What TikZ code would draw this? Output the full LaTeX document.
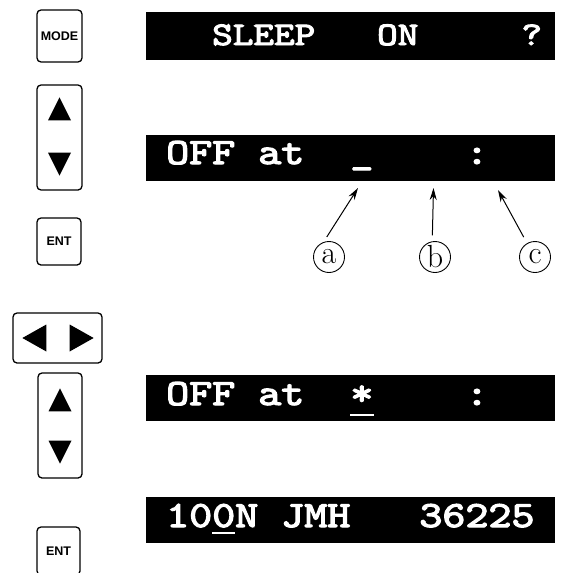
\documentclass[tikz,border=0pt]{standalone}
\usepackage{fontspec}
\usepackage{graphicx}
\setsansfont{Liberation Sans}
\newfontfamily\lcdfont{lmmono10-regular.otf}[FakeBold=3]
\usetikzlibrary{arrows.meta}

\begin{document}
\begin{tikzpicture}[
					x=1pt,y=-1pt,
					lcdbar/.style={fill=black},
					lcdtext/.style={anchor=base west,inner sep=0pt,text=white,font=\lcdfont\fontsize{#1}{#1}\selectfont},
					lcdtext/.default=37,
					cursor/.style={draw=white,line width=2.4pt},
					keybox/.style={draw,line width=1.3pt,rounded corners=4pt,inner sep=0pt,font=\sffamily\bfseries\fontsize{12.5}{14}\selectfont},
					keytri/.style={fill=black},
					tagnode/.style={circle,draw,line width=0.9pt,inner sep=0pt,minimum size=31pt,font=\fontsize{32}{34}\selectfont},
					tagedge/.style={-{Stealth[length=12pt,width=7pt]},line width=1pt}
					]
					\clip (0,0) rectangle (560,573);
					% display lines
					\foreach \top/\ht in {12/48,135/46,375/46,497/46}
						\fill[lcdbar] (146,\top) rectangle (555,\top+\ht);
					\node[lcdtext=33] (t1) at (212,45) {\scalebox{1.19}[1]{SLEEP~~~ON~~~~~?}};
					\node[lcdtext] (t2) at (166,164) {\scalebox{1.185}[1]{OFF~at~~\_~~~~:}};
					\node[lcdtext] (t3) at (166,405) {\scalebox{1.185}[1]{OFF~at~~*~~~~:}};
					\node[lcdtext] (t4) at (166,527) {\scalebox{1.185}[1]{100N~JMH~~~36225}};
					\draw[cursor] ([xshift=184pt,yshift=-10pt]t3.base west) -- ++(24,0);
					\draw[cursor] ([xshift=46pt,yshift=-6pt]t4.base west) -- ++(23,0);
					% keys
					\node[keybox,minimum width=45pt,minimum height=52pt] (mode) at (59.5,36) {MODE};
					\node[keybox,minimum width=45pt,minimum height=105pt] (ud1) at (59.5,137.5) {};
					\node[keybox,minimum width=44pt,minimum height=47pt] (ent1) at (59,241.5) {ENT};
					\node[keybox,minimum width=89pt,minimum height=50pt] (lr) at (57.5,338) {};
					\node[keybox,minimum width=44pt,minimum height=105pt] (ud2) at (60,425.5) {};
					\node[keybox,minimum width=43pt,minimum height=48pt] (ent2) at (58.5,551) {ENT};
					\foreach \k/\d in {ud1/13,ud2/16}{
						\fill[keytri] ([yshift=-\d pt]\k.north) -- ++(11.5,23) -- ++(-23,0) -- cycle;
						\fill[keytri] ([yshift=15pt]\k.south) -- ++(11.5,-23) -- ++(-23,0) -- cycle;
					}
					\fill[keytri] ([xshift=10pt]lr.west) -- ++(24,-13.5) -- ++(0,27) -- cycle;
					\fill[keytri] ([xshift=-9pt]lr.east) -- ++(-24,-13.5) -- ++(0,27) -- cycle;
					% digit pointers
					\node[tagnode] (ta) at (329,257) {a};
					\node[tagnode] (tb) at (435,257) {b};
					\node[tagnode] (tc) at (535,257) {c};
					\coordinate (pa) at (358,188);
					\coordinate (pb) at (433.5,188);
					\coordinate (pc) at (498,190);
					\draw[tagedge,shorten <=6pt] (ta.110) -- (pa);
					\draw[tagedge,shorten <=6pt] (tb.100) -- (pb);
					\draw[tagedge,shorten <=7pt] (tc.120) -- (pc);
				\end{tikzpicture}
\end{document}
